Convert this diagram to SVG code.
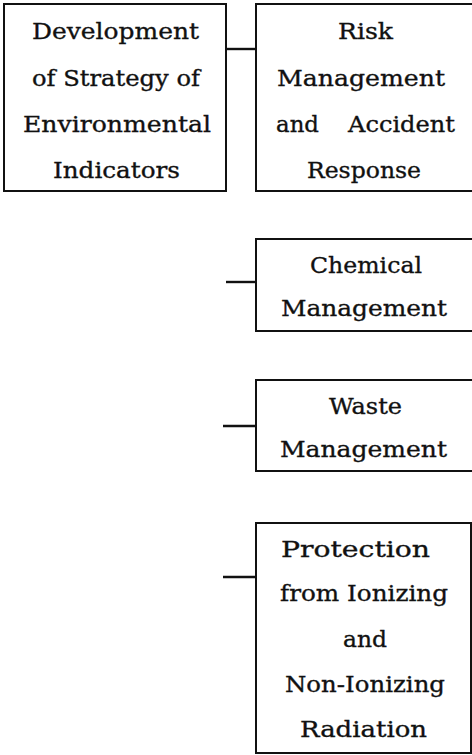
<svg xmlns="http://www.w3.org/2000/svg" width="472" height="755" viewBox="0 0 472 755">
  <style>
    .box { fill: #ffffff; stroke: #111111; stroke-width: 2; }
    .link { stroke: #111111; stroke-width: 2.4; fill: none; }
    .lbl { font-family: "DejaVu Serif", "Liberation Serif", serif; font-size: 23px; fill: #111111; stroke: #111111; stroke-width: 0.35; }
  </style>
  <rect width="472" height="755" fill="#ffffff"/>

  <!-- connectors -->
  <g id="connectors">
    <line class="link" x1="226" y1="49" x2="256" y2="49"/>
    <line class="link" x1="226" y1="282" x2="256" y2="282"/>
    <line class="link" x1="223" y1="426" x2="256" y2="426"/>
    <line class="link" x1="223" y1="577" x2="256" y2="577"/>
  </g>

  <g id="node-indicators">
    <rect class="box" x="4" y="4" width="222" height="187"/>
    <text class="lbl" x="32" y="39" textLength="167" lengthAdjust="spacingAndGlyphs">Development</text>
    <text class="lbl" x="32" y="86" textLength="168" lengthAdjust="spacingAndGlyphs">of Strategy of</text>
    <text class="lbl" x="23" y="132" textLength="188" lengthAdjust="spacingAndGlyphs">Environmental</text>
    <text class="lbl" x="53" y="178" textLength="127" lengthAdjust="spacingAndGlyphs">Indicators</text>
  </g>

  <g id="node-risk">
    <rect class="box" x="256" y="4" width="220" height="187"/>
    <text class="lbl" x="338" y="39" textLength="55" lengthAdjust="spacingAndGlyphs">Risk</text>
    <text class="lbl" x="277" y="86" textLength="168" lengthAdjust="spacingAndGlyphs">Management</text>
    <text class="lbl"><tspan x="276" y="132" textLength="43" lengthAdjust="spacingAndGlyphs">and</tspan><tspan x="348" y="132" textLength="107" lengthAdjust="spacingAndGlyphs">Accident</tspan></text>
    <text class="lbl" x="307" y="178" textLength="114" lengthAdjust="spacingAndGlyphs">Response</text>
  </g>

  <g id="node-chemical">
    <rect class="box" x="256" y="239" width="220" height="92"/>
    <text class="lbl" x="310" y="273" textLength="112" lengthAdjust="spacingAndGlyphs">Chemical</text>
    <text class="lbl" x="281" y="316" textLength="166" lengthAdjust="spacingAndGlyphs">Management</text>
  </g>

  <g id="node-waste">
    <rect class="box" x="256" y="380" width="220" height="91"/>
    <text class="lbl" x="329" y="414" textLength="73" lengthAdjust="spacingAndGlyphs">Waste</text>
    <text class="lbl" x="280" y="457" textLength="167" lengthAdjust="spacingAndGlyphs">Management</text>
  </g>

  <g id="node-radiation">
    <rect class="box" x="256" y="523" width="215" height="230"/>
    <text class="lbl" x="281" y="557" textLength="149" lengthAdjust="spacingAndGlyphs">Protection</text>
    <text class="lbl" x="280" y="601" textLength="168" lengthAdjust="spacingAndGlyphs">from Ionizing</text>
    <text class="lbl" x="343" y="647" textLength="44" lengthAdjust="spacingAndGlyphs">and</text>
    <text class="lbl" x="285" y="692" textLength="160" lengthAdjust="spacingAndGlyphs">Non-Ionizing</text>
    <text class="lbl" x="300" y="737" textLength="127" lengthAdjust="spacingAndGlyphs">Radiation</text>
  </g>
</svg>
